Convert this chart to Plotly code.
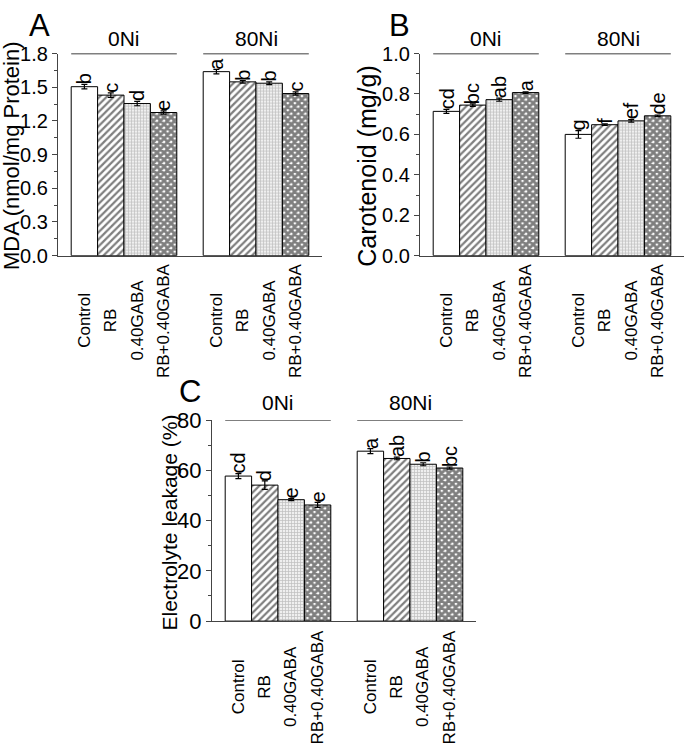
import plotly.graph_objects as go

W, H = 685, 754
FONT = "Liberation Sans, Arial, sans-serif"

treatments = ["Control", "RB", "0.40GABA", "RB+0.40GABA"]
groups = ["0Ni", "80Ni"]

# Panel A: MDA (nmol/mg Protein)
mda_0 = [1.505, 1.43, 1.355, 1.275]
mda_80 = [1.639, 1.548, 1.536, 1.444]
mda_err_0 = [0.02, 0.02, 0.02, 0.015]
mda_err_80 = [0.02, 0.012, 0.012, 0.015]
mda_let_0 = ["b", "c", "d", "e"]
mda_let_80 = ["a", "b", "b", "c"]

# Panel B: Carotenoid (mg/g)
car_0 = [0.714, 0.745, 0.772, 0.807]
car_80 = [0.600, 0.648, 0.667, 0.692]
car_err_0 = [0.01, 0.006, 0.008, 0.004]
car_err_80 = [0.019, 0.004, 0.006, 0.004]
car_let_0 = ["cd", "bc", "ab", "a"]
car_let_80 = ["g", "f", "ef", "de"]

# Panel C: Electrolyte leakage (%)
el_0 = [57.7, 54.1, 48.3, 46.2]
el_80 = [67.6, 64.7, 62.4, 60.9]
el_err_0 = [1.0, 1.7, 0.4, 1.0]
el_err_80 = [1.0, 0.5, 0.6, 0.4]
el_let_0 = ["cd", "d", "e", "e"]
el_let_80 = ["a", "ab", "b", "bc"]

patterns = [
    dict(shape=""),
    dict(shape="/", fgcolor="black", bgcolor="white", size=5, solidity=0.45),
    dict(shape="+", fgcolor="#8c8c8c", bgcolor="#efefef", size=3, solidity=0.4),
    dict(shape="x", fgcolor="black", bgcolor="white", size=5, solidity=0.8),
]


def px_x(p):
    return p / W


def px_y(p):
    return 1 - p / H


panels = [
    dict(key="", vals=[mda_0, mda_80], errs=[mda_err_0, mda_err_80], lets=[mda_let_0, mda_let_80],
         xd=(58, 322), yd=(43, 252), rng=[0, 1.8], dtick=0.3, minor=0.15, fmt=".1f",
         title="MDA (nmol/mg Protein)", tsize=22, tx=11, tc=149, tickfs=20,
         letter="A", lx=39, ly=14, gy=27, caty=319),
    dict(key="2", vals=[car_0, car_80], errs=[car_err_0, car_err_80], lets=[car_let_0, car_let_80],
         xd=(420, 684), yd=(43, 252), rng=[0, 1.0], dtick=0.2, minor=0.1, fmt=".1f",
         title="Carotenoid (mg/g)", tsize=25, tx=367, tc=160, tickfs=20,
         letter="B", lx=400, ly=14, gy=27, caty=319),
    dict(key="3", vals=[el_0, el_80], errs=[el_err_0, el_err_80], lets=[el_let_0, el_let_80],
         xd=(212, 476), yd=(422, 630), rng=[0, 80], dtick=20, minor=10, fmt="d",
         title="Electrolyte leakage (%)", tsize=21, tx=169, tc=528, tickfs=22,
         letter="C", lx=190, ly=392, gy=404, caty=698),
]

fig = go.Figure()
annotations = []
shapes = []
layout = {}

for p in panels:
    k = p["key"]
    xa = "x" + k
    ya = "y" + k
    for t, name in enumerate(treatments):
        xs, ys, es = [], [], []
        for g in range(2):
            xs.append(1 + g * 5 + t)
            ys.append(p["vals"][g][t])
            es.append(p["errs"][g][t])
        fig.add_trace(go.Bar(
            x=xs, y=ys, width=1, xaxis=xa, yaxis=ya, name=name, showlegend=False,
            marker=dict(color="white", line=dict(color="black", width=1), pattern=patterns[t]),
            error_y=dict(type="data", array=es, color="black", thickness=1.2, width=3),
        ))
        for g in range(2):
            annotations.append(dict(
                x=xs[g], y=ys[g] + es[g], xref=xa, yref=ya, text=p["lets"][g][t],
                textangle=-90, showarrow=False, xanchor="center", yanchor="bottom",
                yshift=-2, font=dict(family=FONT, size=20, color="black")))
            annotations.append(dict(
                x=xs[g], y=px_y(p["caty"]), xref=xa, yref="paper", text=name,
                textangle=-90, showarrow=False, xanchor="center", yanchor="middle",
                font=dict(family=FONT, size=17, color="black")))
    for g, gname in enumerate(groups):
        shapes.append(dict(type="line", xref=xa, yref=ya, x0=0.5 + g * 5, x1=4.5 + g * 5,
                           y0=p["rng"][1], y1=p["rng"][1], line=dict(color="black", width=1.2)))
        annotations.append(dict(x=2.5 + g * 5, y=px_y(p["gy"]), xref=xa, yref="paper", text=gname,
                                showarrow=False, xanchor="center", yanchor="middle",
                                font=dict(family=FONT, size=21, color="black")))
    annotations.append(dict(x=px_x(p["tx"]), y=px_y(p["tc"]), xref="paper", yref="paper",
                            text=p["title"], textangle=-90, showarrow=False,
                            xanchor="center", yanchor="middle",
                            font=dict(family=FONT, size=p["tsize"], color="black")))
    annotations.append(dict(x=px_x(p["lx"]), y=px_y(p["ly"]), xref="paper", yref="paper",
                            text=p["letter"], showarrow=False, xanchor="center", yanchor="middle",
                            font=dict(family=FONT, size=31, color="black")))
    layout["xaxis" + k] = dict(
        domain=[px_x(p["xd"][0]), px_x(p["xd"][1])], range=[0, 10], anchor=ya,
        showticklabels=False, ticks="", showline=True, linecolor="#444", linewidth=1.2,
        showgrid=False, zeroline=False, fixedrange=True)
    layout["yaxis" + k] = dict(
        domain=[px_y(p["yd"][1]), px_y(p["yd"][0])], range=p["rng"], anchor=xa,
        dtick=p["dtick"], tick0=0, tickformat=p["fmt"], ticks="outside", ticklen=5,
        tickwidth=1, tickcolor="#444", showline=True, linecolor="#444", linewidth=1.2,
        showgrid=False, zeroline=False,
        tickfont=dict(family=FONT, size=p["tickfs"], color="black"),
        minor=dict(dtick=p["minor"], tick0=0, ticks="outside", ticklen=3, tickcolor="#444", showgrid=False),
        fixedrange=True)

fig.update_layout(
    width=W, height=H, margin=dict(l=0, r=0, t=0, b=0),
    paper_bgcolor="white", plot_bgcolor="white",
    barmode="overlay", annotations=annotations, shapes=shapes,
    font=dict(family=FONT, color="black"),
    **layout,
)

fig.write_html(
    "out.html",
    config={"displayModeBar": False},
    post_script="document.body.style.margin='0';document.body.style.overflow='hidden';",
)
